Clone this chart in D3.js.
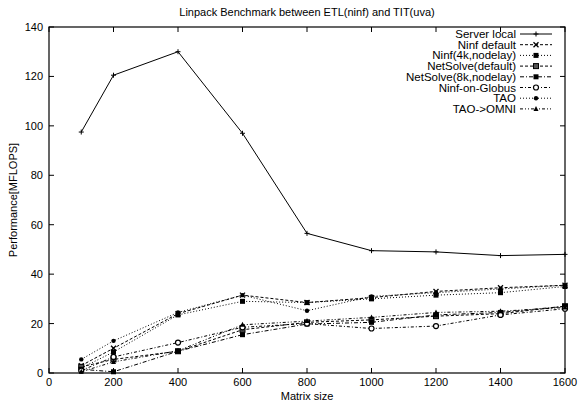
<!DOCTYPE html>
<html>
<head>
<meta charset="utf-8">
<script src="https://cdn.jsdelivr.net/npm/d3@7"></script>
<style>
  body { margin: 0; background: #fff; }
  text { font-family: "Liberation Sans", Arial, sans-serif; fill: #000; }
</style>
</head>
<body>
<div id="chart"></div>
<script>
// matrix sizes on the x axis
var sizes = [100, 200, 400, 600, 800, 1000, 1200, 1400, 1600];

// MFLOPS per configuration
var serverLocal   = [97.5, 120.5, 130, 97, 56.5, 49.5, 49, 47.5, 48];
var ninfDefault   = [3, 10, 24, 31.5, 28.5, 30.5, 33, 34.5, 35.5];
var ninf4k        = [2, 8.5, 23.5, 29, 28.5, 30, 31.5, 32.5, 35];
var netsolveDef   = [2.5, 5.5, 8.8, 17.5, 20.5, 21.5, 23, 24, 27];
var netsolve8k    = [1.5, 0.5, 8.8, 15.5, 19.8, 20.5, 23.5, 24.5, 27];
var ninfGlobus    = [1, 6.5, 12.3, 18.5, 20, 18, 19, 23.5, 26];
var tao           = [5.5, 13, 24.5, 31.5, 25.2, 31, 32.5, 34, 35.5];
var taoOmni       = [0.5, 4.5, 9, 19.5, 21, 22.5, 24.5, 25, 26.5];

var seriesNames = ["Server local", "Ninf default", "Ninf(4k,nodelay)", "NetSolve(default)",
                   "NetSolve(8k,nodelay)", "Ninf-on-Globus", "TAO", "TAO->OMNI"];
var seriesValues = [serverLocal, ninfDefault, ninf4k, netsolveDef, netsolve8k, ninfGlobus, tao, taoOmni];

var xTicks = [0, 200, 400, 600, 800, 1000, 1200, 1400, 1600];
var yTicks = [0, 20, 40, 60, 80, 100, 120, 140];

// line dash + marker per series (gnuplot style)
var styles = [
  {dash: null,          marker: "plus"},
  {dash: "3,2",         marker: "cross"},
  {dash: "1,2",         marker: "fsquare"},
  {dash: "3,2",         marker: "bsquare"},
  {dash: "4,2,1,2",     marker: "fsquare"},
  {dash: "3,2,1,2",     marker: "circle"},
  {dash: "1,2",         marker: "dot"},
  {dash: "3,2,1,2,1,2", marker: "triangle"}
];

var width = 583, height = 403;
var margin = {left: 49, right: 18, top: 27, bottom: 30};

var svg = d3.select("#chart").append("svg")
  .attr("width", width)
  .attr("height", height);

var x = d3.scaleLinear().domain([0, 1600]).range([margin.left, width - margin.right]);
var y = d3.scaleLinear().domain([0, 140]).range([height - margin.bottom, margin.top]);

var tickLen = 5;

// frame
svg.append("rect")
  .attr("x", x(0)).attr("y", y(140))
  .attr("width", x(1600) - x(0)).attr("height", y(0) - y(140))
  .attr("fill", "none").attr("stroke", "#000").attr("stroke-width", 1.2);

// ticks inward on all four sides
xTicks.forEach(function(t) {
  svg.append("line").attr("x1", x(t)).attr("x2", x(t)).attr("y1", y(0)).attr("y2", y(0) - tickLen)
    .attr("stroke", "#000");
  svg.append("line").attr("x1", x(t)).attr("x2", x(t)).attr("y1", y(140)).attr("y2", y(140) + tickLen)
    .attr("stroke", "#000");
  svg.append("text").attr("x", x(t)).attr("y", y(0) + 13)
    .attr("text-anchor", "middle").attr("font-size", 11).text(t);
});
yTicks.forEach(function(t) {
  svg.append("line").attr("x1", x(0)).attr("x2", x(0) + tickLen).attr("y1", y(t)).attr("y2", y(t))
    .attr("stroke", "#000");
  svg.append("line").attr("x1", x(1600)).attr("x2", x(1600) - tickLen).attr("y1", y(t)).attr("y2", y(t))
    .attr("stroke", "#000");
  svg.append("text").attr("x", x(0) - 6).attr("y", y(t) + 4)
    .attr("text-anchor", "end").attr("font-size", 11).text(t);
});

// titles
svg.append("text").attr("x", (x(0) + x(1600)) / 2).attr("y", 16)
  .attr("text-anchor", "middle").attr("font-size", 11)
  .text("Linpack Benchmark between ETL(ninf) and TIT(uva)");
svg.append("text").attr("x", (x(0) + x(1600)) / 2).attr("y", 400)
  .attr("text-anchor", "middle").attr("font-size", 11).text("Matrix size");
svg.append("text")
  .attr("transform", "translate(17," + ((y(0) + y(140)) / 2) + ") rotate(-90)")
  .attr("text-anchor", "middle").attr("font-size", 11).text("Performance[MFLOPS]");

function drawMarker(g, kind, cx, cy) {
  var s = 2.5;
  if (kind === "plus") {
    g.append("path").attr("d", "M" + (cx - s) + "," + cy + "H" + (cx + s) + "M" + cx + "," + (cy - s) + "V" + (cy + s))
      .attr("stroke", "#000").attr("stroke-width", 1);
  } else if (kind === "cross") {
    g.append("path").attr("d", "M" + (cx - s) + "," + (cy - s) + "L" + (cx + s) + "," + (cy + s) +
      "M" + (cx - s) + "," + (cy + s) + "L" + (cx + s) + "," + (cy - s))
      .attr("stroke", "#000").attr("stroke-width", 1.3);
  } else if (kind === "fsquare") {
    g.append("rect").attr("x", cx - s).attr("y", cy - s).attr("width", 2 * s).attr("height", 2 * s)
      .attr("fill", "#000");
  } else if (kind === "bsquare") {
    g.append("rect").attr("x", cx - s).attr("y", cy - s).attr("width", 2 * s).attr("height", 2 * s)
      .attr("fill", "#555").attr("stroke", "#000").attr("stroke-width", 1);
  } else if (kind === "circle") {
    g.append("circle").attr("cx", cx).attr("cy", cy).attr("r", s)
      .attr("fill", "#fff").attr("stroke", "#000").attr("stroke-width", 1.2);
  } else if (kind === "dot") {
    g.append("circle").attr("cx", cx).attr("cy", cy).attr("r", 2.2).attr("fill", "#000");
  } else if (kind === "triangle") {
    g.append("path").attr("d", "M" + cx + "," + (cy - s - 0.5) + "L" + (cx + s) + "," + (cy + s - 0.5) +
      "L" + (cx - s) + "," + (cy + s - 0.5) + "Z").attr("fill", "#000");
  }
}

var line = d3.line()
  .x(function(d, i) { return x(sizes[i]); })
  .y(function(d) { return y(d); });

seriesValues.forEach(function(vals, k) {
  var g = svg.append("g");
  g.append("path")
    .attr("d", line(vals))
    .attr("fill", "none")
    .attr("stroke", "#000")
    .attr("stroke-width", 1)
    .attr("stroke-dasharray", styles[k].dash);
  vals.forEach(function(v, i) {
    drawMarker(g, styles[k].marker, x(sizes[i]), y(v));
  });
});

// legend
var legX = 516, legY0 = 34, legStep = 10.7;
seriesNames.forEach(function(name, k) {
  var ly = legY0 + k * legStep;
  var g = svg.append("g");
  g.append("text").attr("x", legX).attr("y", ly + 4)
    .attr("text-anchor", "end").attr("font-size", 11.5).text(name);
  g.append("line").attr("x1", legX + 4).attr("x2", legX + 36).attr("y1", ly).attr("y2", ly)
    .attr("stroke", "#000").attr("stroke-width", 1)
    .attr("stroke-dasharray", styles[k].dash);
  drawMarker(g, styles[k].marker, legX + 20, ly);
});
</script>
</body>
</html>
